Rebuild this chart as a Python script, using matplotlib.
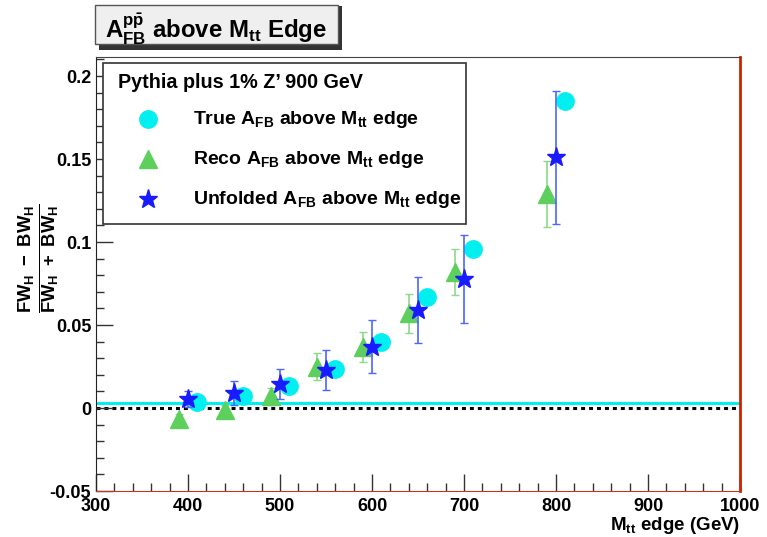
import matplotlib
matplotlib.use("Agg")
import matplotlib.pyplot as plt
from matplotlib.lines import Line2D
from matplotlib.patches import Rectangle
from matplotlib.ticker import MultipleLocator

plt.rcParams['font.family'] = ['Liberation Sans', 'DejaVu Sans']
plt.rcParams['font.weight'] = 'bold'
plt.rcParams['mathtext.fontset'] = 'custom'
plt.rcParams['mathtext.rm'] = 'Liberation Sans:bold'
plt.rcParams['mathtext.it'] = 'Liberation Sans:bold'
plt.rcParams['mathtext.bf'] = 'Liberation Sans:bold'
plt.rcParams['mathtext.default'] = 'rm'

# data
true_x = [410, 460, 510, 560, 610, 660, 710, 810]
true_y = [0.0036, 0.0072, 0.013, 0.0235, 0.040, 0.067, 0.096, 0.185]

reco_x = [390, 440, 490, 540, 590, 640, 690, 790]
reco_y = [-0.0066, -0.001, 0.007, 0.025, 0.037, 0.057, 0.082, 0.129]
reco_err = [0.003, 0.003, 0.005, 0.008, 0.009, 0.0115, 0.014, 0.020]

unf_x = [400, 450, 500, 550, 600, 650, 700, 800]
unf_y = [0.0055, 0.009, 0.0145, 0.023, 0.037, 0.059, 0.078, 0.151]
unf_err = [0.005, 0.007, 0.009, 0.012, 0.016, 0.020, 0.0265, 0.040]

true_line = 0.0033

c_true = '#00f0f0'
c_reco = '#5dcf5d'
c_reco_err = '#8ada8a'
c_unf = '#1a1aff'
c_unf_err = '#4d66ff'

fig = plt.figure(figsize=(7.67, 5.37), dpi=100)
W, H = 767.0, 537.0
ax = fig.add_axes([96 / W, 1 - 491 / H, (740 - 96) / W, (491 - 57) / H])

ax.axhline(true_line, color=c_true, lw=2.2, zorder=1)
ax.axhline(0, color='black', lw=2.2, ls=(0, (1.3, 1.3)), zorder=1)

ax.plot(true_x, true_y, 'o', color=c_true, ms=12.5, mec=c_true, zorder=3)
ax.errorbar(reco_x, reco_y, yerr=reco_err, fmt='^', color=c_reco, ms=13,
            mec=c_reco, ecolor=c_reco_err, elinewidth=1.2, capsize=3, zorder=4)
ax.errorbar(unf_x, unf_y, yerr=unf_err, fmt='*', color=c_unf, ms=14,
            mec=c_unf, ecolor=c_unf_err, elinewidth=1.2, capsize=3, zorder=5)

ax.set_xlim(300, 1000)
ax.set_ylim(-0.05, 0.2115)
ax.xaxis.set_major_locator(MultipleLocator(100))
ax.xaxis.set_minor_locator(MultipleLocator(20))
ax.yaxis.set_major_locator(MultipleLocator(0.05))
ax.yaxis.set_minor_locator(MultipleLocator(0.01))
ax.set_yticks([-0.05, 0, 0.05, 0.1, 0.15, 0.2])
ax.set_yticklabels(['-0.05', '0', '0.05', '0.1', '0.15', '0.2'])
ax.tick_params(which='both', direction='in', top=False, right=False,
               labelsize=13, width=1, color='#333333')
ax.tick_params(which='major', length=12)
ax.tick_params(which='minor', length=6)
ax.tick_params(axis='x', pad=5)
for lbl in ax.get_xticklabels() + ax.get_yticklabels():
    lbl.set_fontweight('bold')

ax.spines['left'].set_color('#222222')
ax.spines['top'].set_color('#444444')
ax.spines['bottom'].set_color('#cc3322')
ax.spines['right'].set_color('#cc2200')
ax.spines['right'].set_linewidth(2)

fig.text(740 / W, 1 - 515 / H, r'$M_{tt}$ edge (GeV)', ha='right', va='top',
         fontsize=13.5, fontweight='bold')
fig.text(40 / W, 1 - 258 / H, r'$\frac{FW_H\ -\ BW_H}{FW_H\ +\ BW_H}$',
         rotation=90, ha='center', va='center', fontsize=19)

# title box
fig.add_artist(Rectangle((99 / W, 1 - 50 / H), 243 / W, 44 / H,
                         transform=fig.transFigure, facecolor='#333333',
                         edgecolor='none', zorder=5))
fig.add_artist(Rectangle((95 / W, 1 - 44 / H), 243 / W, 39 / H,
                         transform=fig.transFigure, facecolor='#efefef',
                         edgecolor='#555555', lw=1, zorder=6))
fig.text(105 / W, 1 - 29 / H, r'$A_{FB}^{p\bar{p}}$ above $M_{tt}$ Edge',
         ha='left', va='center', fontsize=17.3, fontweight='bold', zorder=7)

# legend box
fig.add_artist(Rectangle((103 / W, 1 - 224 / H), 363 / W, 161 / H,
                         transform=fig.transFigure, facecolor='white',
                         edgecolor='#333333', lw=1.2, zorder=8))
fig.text(118 / W, 1 - 82 / H, "Pythia plus 1% Z\u2019 900 GeV", ha='left',
         va='center', fontsize=14.2, fontweight='bold', zorder=9)
entries = [
    ('o', c_true, 12.5, r'True $A_{FB}$ above $M_{tt}$ edge', 119),
    ('^', c_reco, 13, r'Reco $A_{FB}$ above $M_{tt}$ edge', 159),
    ('*', c_unf, 14, r'Unfolded $A_{FB}$ above $M_{tt}$ edge', 199),
]
for mk, col, ms, txt, yp in entries:
    fig.add_artist(Line2D([148 / W], [1 - yp / H], marker=mk, color=col,
                          mec=col, ms=ms, ls='none',
                          transform=fig.transFigure, zorder=9))
    fig.text(193 / W, 1 - yp / H, txt, ha='left', va='center', fontsize=14,
             fontweight='bold', zorder=9)

fig.savefig('out.png', dpi=100)
